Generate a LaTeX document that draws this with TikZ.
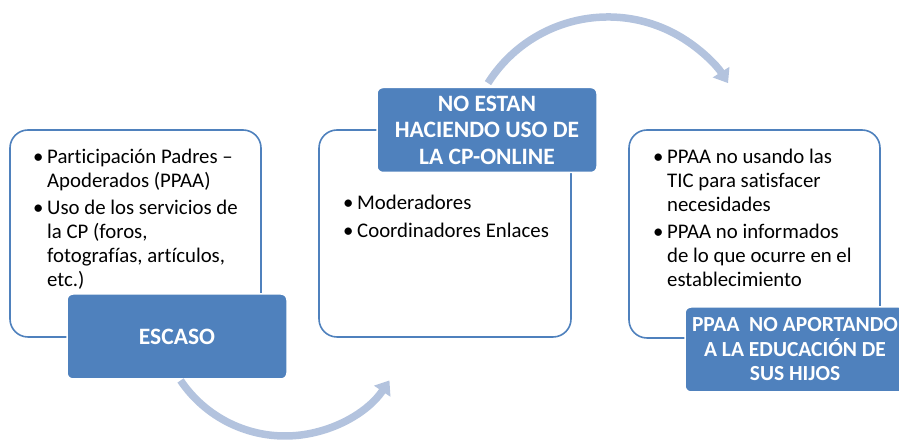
\documentclass[tikz,border=0pt]{standalone}
\usepackage{fontspec}
\setmainfont{Carlito}[Ligatures=NoCommon]
\usetikzlibrary{arrows.meta}
\definecolor{accent}{HTML}{4F81BD}
\definecolor{flowc}{HTML}{B3C3DE}
\newcommand{\bul}{\llap{\makebox[14pt][l]{•}}}
\tikzset{
  whitebox/.style={draw=accent, line width=1.6pt, fill=white, rounded corners=18pt},
  darkbox/.style={fill=accent, draw=white, line width=1.5pt, rounded corners=6pt,
    text=white, font=\fontsize{23.5}{26.5}\selectfont\bfseries, align=center,
    minimum width=220pt, minimum height=85pt, inner sep=0pt},
  bodytext/.style={anchor=base west, align=left, inner sep=0pt,
    font=\fontsize{20.8}{24}\selectfont, text=black},
  flow/.style={draw=flowc, line width=7.5pt, -{Triangle[width=19pt,length=13pt]}}
}
\begin{document}
\begin{tikzpicture}[x=1pt,y=1pt]
\useasboundingbox (0,0) rectangle (899,443);
% white boxes
\draw[whitebox] (10,106) rectangle (261,313);
\draw[whitebox] (319,106) rectangle (571,313);
\draw[whitebox] (629,105) rectangle (880,313);
% body texts (anchored at the baseline of the last line)
\node[bodytext] (t1) at (47,156) {\bul Participación Padres –\\ Apoderados (PPAA)\\[3pt]
  \bul Uso de los servicios de\\ la CP (foros,\\ fotografías, artículos,\\ etc.)};
\node[bodytext] (t2) at (357,205) {\bul Moderadores\\[4pt] \bul Coordinadores Enlaces};
\node[bodytext] (t3) at (667,156) {\bul PPAA no usando las\\ TIC para satisfacer\\ necesidades\\[3pt]
  \bul PPAA no informados\\ de lo que ocurre en el\\ establecimiento};
% dark boxes
\node[darkbox] (d1) at (177,106.5) {ESCASO};
\node[darkbox] (d2) at (487,313) {NO ESTAN\\ HACIENDO USO DE\\ LA CP-ONLINE};
\node[darkbox, font=\fontsize{21.5}{24.5}\selectfont\bfseries] (d3) at (795,93.5) {PPAA~ NO APORTANDO\\ A LA EDUCACIÓN DE\\ SUS HIJOS};
% arcs
\coordinate (c1) at (285,133);
\coordinate (c2) at (608,284);
\coordinate (s1) at ([shift={(214:126pt)}]c1);
\coordinate (s2) at ([shift={(147.7:142pt)}]c2);
\draw[flow] (s1) arc[start angle=214, end angle=326, radius=126pt];
\draw[flow] (s2) arc[start angle=147.7, end angle=32.3, radius=142pt];
\end{tikzpicture}
\end{document}
